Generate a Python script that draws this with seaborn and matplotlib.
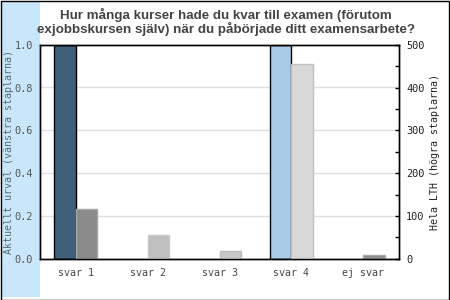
import matplotlib
matplotlib.use("Agg")
import matplotlib.pyplot as plt
from matplotlib.patches import Rectangle
from matplotlib.ticker import MultipleLocator
import numpy as np
import pandas as pd
import seaborn as sns

# Survey data
categories = ["svar 1", "svar 2", "svar 3", "svar 4", "ej svar"]
urval_andel = [1.0, 0.0, 0.0, 1.0, 0.0]          # left axis, share of selection
lth_antal = [115, 56, 18, 455, 8]                 # right axis, whole LTH count
series = ["Aktuellt urval", "Hela LTH"]

urval_colors = ["#3f5f7a", "#ffffff", "#ffffff", "#a9cbe6", "#ffffff"]
lth_colors = ["#8a8a8a", "#c0c0c0", "#c8c8c8", "#d8d8d8", "#8c8c8c"]
lth_edges = ["#a6a6a6", "#c8c8c8", "#bcbcbc", "#c0c0c0", "#a8a8a8"]

title = ("Hur många kurser hade du kvar till examen (förutom\n"
         "exjobbskursen själv) när du påbörjade ditt examensarbete?")
left_label = "Aktuellt urval (vänstra staplarna)"
right_label = "Hela LTH (högra staplarna)"

df_urval = pd.DataFrame({"kategori": categories, "serie": series[0], "varde": urval_andel})
df_lth = pd.DataFrame({"kategori": categories, "serie": series[1], "varde": lth_antal})

sns.set_theme(style="white")
mono = ["DejaVu Sans Mono"]

fig = plt.figure(figsize=(4.5, 3.0), dpi=100)
fig.patch.set_facecolor("white")

# light blue side strip and outer frame
fig.add_artist(Rectangle((2 / 450, 3 / 300), 38 / 450, 295 / 300,
                         transform=fig.transFigure, facecolor="#c9e7fb",
                         edgecolor="none", zorder=0))
fig.add_artist(Rectangle((0.5 / 450, 0.5 / 300), 448.5 / 450, 298.5 / 300,
                         transform=fig.transFigure, facecolor="none",
                         edgecolor="black", linewidth=1.0, zorder=10))

ax1 = fig.add_axes([40 / 450, 41.3 / 300, 359 / 450, 214 / 300])
ax1.set_facecolor("white")

# alternating horizontal bands and grid lines
for lo, hi in [(0.2, 0.4), (0.6, 0.8)]:
    ax1.axhspan(lo, hi, color="#f2f2f2", zorder=0, linewidth=0)
for y in [0.2, 0.4, 0.6, 0.8]:
    ax1.axhline(y, color="#dedede", linewidth=1.0, zorder=0.5)

sns.barplot(data=df_urval, x="kategori", y="varde", hue="serie",
            hue_order=series, order=categories, width=0.6, dodge=True,
            legend=False, ax=ax1, edgecolor="black", linewidth=1.0,
            errorbar=None, zorder=2)
for p in ax1.patches:
    idx = int(round(p.get_x() + p.get_width()))
    if 0 <= idx < len(categories):
        p.set_facecolor(urval_colors[idx])
        if urval_andel[idx] == 0:
            p.set_visible(False)

ax2 = ax1.twinx()
sns.barplot(data=df_lth, x="kategori", y="varde", hue="serie",
            hue_order=series, order=categories, width=0.6, dodge=True,
            legend=False, ax=ax2, linewidth=1.0, errorbar=None, zorder=2)
for p in ax2.patches:
    idx = int(round(p.get_x()))
    if 0 <= idx < len(categories):
        p.set_facecolor(lth_colors[idx])
        p.set_edgecolor(lth_edges[idx])

ax1.set_xlim(-0.5, 4.5)
ax1.set_ylim(0, 1.0)
ax2.set_ylim(0, 500)

ax1.set_yticks([0.0, 0.2, 0.4, 0.6, 0.8, 1.0])
ax1.set_yticklabels(["0.0", "0.2", "0.4", "0.6", "0.8", "1.0"],
                    family=mono, fontsize=7.4, color="#555555")
ax1.tick_params(axis="y", length=0, pad=5)
ax1.set_xticks(range(len(categories)))
ax1.set_xticklabels(categories, family=mono, fontsize=7.2, color="#444444")
ax1.tick_params(axis="x", length=0, pad=7)
ax1.set_xlabel("")
ax1.set_ylabel(left_label, family=mono, fontsize=7.2, color="#5a6a78")
ax1.yaxis.set_label_coords(-26 / 359, 0.5)

ax2.yaxis.set_major_locator(MultipleLocator(100))
ax2.yaxis.set_minor_locator(MultipleLocator(50))
ax2.tick_params(axis="y", which="both", direction="in", length=3,
                width=1, color="black", pad=5, labelsize=7.4,
                labelcolor="#222222")
for lbl in ax2.get_yticklabels():
    lbl.set_family(mono)
ax2.set_ylabel(right_label, family=mono, fontsize=7.2, color="#222222")
ax2.yaxis.set_label_coords(1 + 31 / 359, 0.5)
ax2.set_xlabel("")

for ax in (ax1, ax2):
    for s in ax.spines.values():
        s.set_color("black")
        s.set_linewidth(1.0)
        s.set_visible(True)

fig.text(0.503, 0.975, title, ha="center", va="top", fontsize=9.6,
         fontweight="bold", color="#444444", family=["Liberation Sans"],
         linespacing=1.05)

fig.savefig("out.png", dpi=100, facecolor="white")
